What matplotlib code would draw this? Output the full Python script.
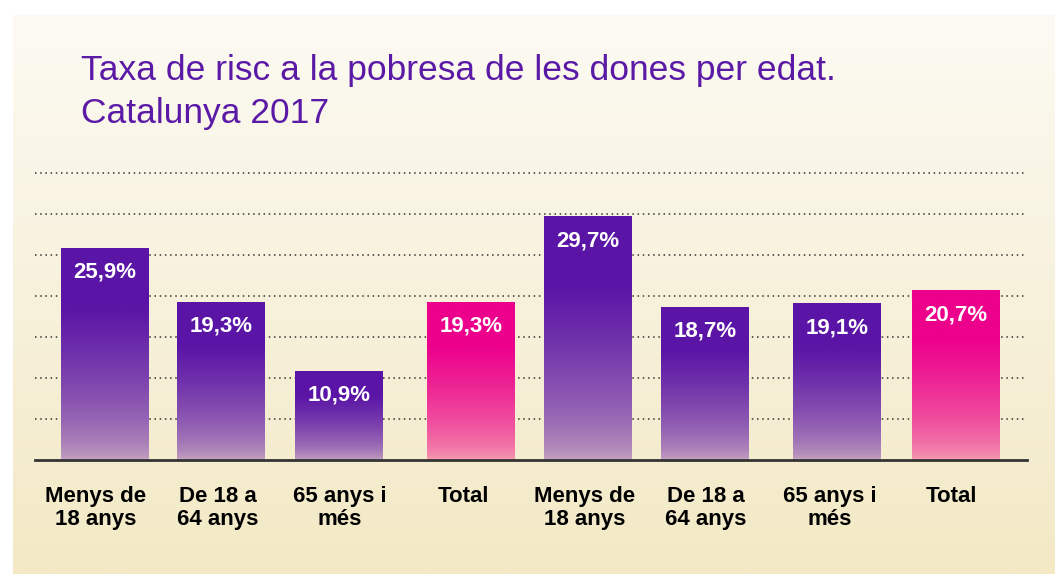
import numpy as np
import matplotlib
matplotlib.use('Agg')
import matplotlib.pyplot as plt
from matplotlib.colors import to_rgb

# data
categories = ['Menys de\n18 anys', 'De 18 a\n64 anys', '65 anys i\nmés', 'Total',
              'Menys de\n18 anys', 'De 18 a\n64 anys', '65 anys i\nmés', 'Total']
values = [25.9, 19.3, 10.9, 19.3, 29.7, 18.7, 19.1, 20.7]
is_total = [False, False, False, True, False, False, False, True]
value_labels = ['25,9%', '19,3%', '10,9%', '19,3%', '29,7%', '18,7%', '19,1%', '20,7%']
grid_ticks = [5, 10, 15, 20, 25, 30, 35]
title_lines = ['Taxa de risc a la pobresa de les dones per edat.', 'Catalunya 2017']

# layout (pixel units on x)
W, H = 1055, 574
bar_x = [105, 221, 339, 471, 588, 705, 837, 956]
label_x = [96, 218, 340, 463, 585, 706, 830, 952]
bar_w = 88

purple_top, purple_bot = '#5a14a6', '#c8a8c0'
pink_top, pink_bot = '#ec008c', '#f4a2b2'
title_color = '#5b1aa6'
sans = ['Liberation Sans', 'DejaVu Sans']

fig = plt.figure(figsize=(W / 100, H / 100), dpi=100)
fig.patch.set_facecolor('white')

# background panel with vertical gradient
bg = fig.add_axes([13 / W, 0, 1 - 13 / W, (H - 15) / H], zorder=0)
c1, c2 = np.array(to_rgb('#fcfaf3')), np.array(to_rgb('#f3e9c5'))
g = np.linspace(0, 1, 256)[:, None, None]
bg.imshow(c1 + (c2 - c1) * g, aspect='auto', extent=[0, 1, 0, 1], origin='upper')
bg.axis('off')

ax = fig.add_axes([35 / W, (H - 460) / H, (1027 - 35) / W, (460 - 173) / H], zorder=1)
ax.patch.set_alpha(0)

for yv in grid_ticks:
    ax.axhline(yv, color='#333333', lw=1.1, ls=(0, (1, 2.4)), zorder=1, clip_on=False)


def ramp(top, bot, n=200):
    s = np.linspace(0, 1, n)
    t = np.clip(s / 0.72, 0, 1) ** 0.6
    a, b = np.array(to_rgb(top)), np.array(to_rgb(bot))
    return (b + (a - b) * t[:, None])[:, None, :]


bars = ax.bar(bar_x, values, width=bar_w,
              color=[pink_top if t else purple_top for t in is_total], zorder=2)
for b, v, tot in zip(bars, values, is_total):
    x0 = b.get_x()
    img = ramp(pink_top, pink_bot) if tot else ramp(purple_top, purple_bot)
    im = ax.imshow(img, extent=[x0, x0 + bar_w, 0, v], origin='lower',
                   aspect='auto', zorder=3)
    im.set_clip_path(b)

for x, v, lab in zip(bar_x, values, value_labels):
    ax.text(x, v - 3.0, lab, ha='center', va='center', color='white',
            fontsize=16, fontweight='bold', family=sans, zorder=4)

ax.axhline(0, color='#333333', lw=2, zorder=5, clip_on=False)
ax.set_xlim(35, 1027)
ax.set_ylim(0, 35)

for x, lab in zip(label_x, categories):
    ax.text(x, -3.2, lab, ha='center', va='top', color='black', fontsize=16,
            fontweight='bold', family=sans, linespacing=1.1)

for s in ax.spines.values():
    s.set_visible(False)
ax.set_xticks([])
ax.set_yticks([])

for i, line in enumerate(title_lines):
    fig.text(81 / W, 1 - (80 + 43 * i) / H, line, ha='left', va='baseline',
             color=title_color, fontsize=25.5, family=sans)

fig.savefig('out.png', dpi=100)
